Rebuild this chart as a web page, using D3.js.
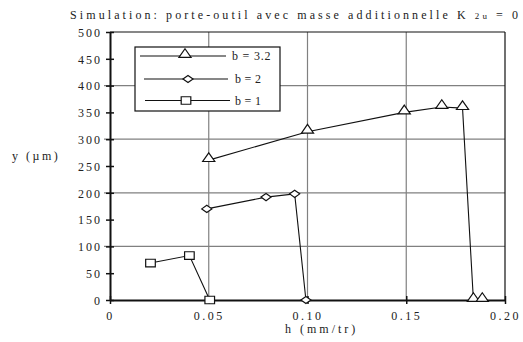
<!DOCTYPE html>
<html><head><meta charset="utf-8">
<script src="https://cdn.jsdelivr.net/npm/d3@7"></script>
<style>body{margin:0;background:#fff}svg{display:block}</style>
</head><body>
<svg id="c" width="523" height="342"></svg>
<script>
const xTicks = [0, 0.05, 0.10, 0.15, 0.20];
const xTickLabels = ["0", "0.05", "0.10", "0.15", "0.20"];
const yTicks = [0, 50, 100, 150, 200, 250, 300, 350, 400, 450, 500];
const yGrid = [100, 200, 300, 400];
const xGrid = [0.05, 0.10, 0.15];

const s32_x = [0.05, 0.10, 0.149, 0.168, 0.1785, 0.184, 0.1885];
const s32_y = [261, 314, 350, 360, 358, 0, 0];
const s2_x = [0.049, 0.079, 0.0935, 0.0992];
const s2_y = [170, 192, 198, 0];
const s1_x = [0.0205, 0.0402, 0.0505];
const s1_y = [69, 83, 0];
const seriesNames = ["b = 3.2", "b = 2", "b = 1"];

const FONT = '"Liberation Serif", "Times New Roman", serif';
const svg = d3.select("#c").style("font-family", FONT);
const x = d3.scaleLinear().domain([0, 0.20]).range([110, 505]);
const y = d3.scaleLinear().domain([0, 500]).range([300, 32]);

// grid
svg.append("g").selectAll("line").data(yGrid).join("line")
  .attr("x1", 104).attr("x2", x(0.20)).attr("y1", d => y(d)).attr("y2", d => y(d))
  .attr("stroke", "#808080").attr("stroke-width", 1.2);
svg.append("g").selectAll("line").data(xGrid).join("line")
  .attr("x1", d => x(d)).attr("x2", d => x(d)).attr("y1", y(0)).attr("y2", y(500))
  .attr("stroke", "#808080").attr("stroke-width", 1.2);
// frame top/right
svg.append("line").attr("x1", x(0)).attr("x2", x(0.2)).attr("y1", y(500)).attr("y2", y(500)).attr("stroke", "#111").attr("stroke-width", 1.2);
svg.append("line").attr("x1", x(0.2)).attr("x2", x(0.2)).attr("y1", y(500)).attr("y2", y(0)).attr("stroke", "#111").attr("stroke-width", 1.2);

// axes
const yAxis = d3.axisLeft(y).tickValues(yTicks).tickSizeInner(4).tickSizeOuter(0).tickPadding(8);
const gy = svg.append("g").attr("transform", `translate(${x(0)},0)`).call(yAxis).attr("font-family", null);
gy.select(".domain").attr("stroke", "#111").attr("stroke-width", 2);
gy.selectAll(".tick line").attr("x2", 4).attr("x1", -4).attr("stroke", "#111").attr("stroke-width", 1.5);
gy.selectAll(".tick text").attr("fill", "#222").attr("x", -8).attr("dy", "0.35em")
  .style("font-family", FONT).style("font-size", "12px").style("letter-spacing", "2px");

const xAxis = d3.axisBottom(x).tickValues(xTicks).tickFormat((d, i) => xTickLabels[i]).tickSizeInner(4).tickSizeOuter(0).tickPadding(7);
const gx = svg.append("g").attr("transform", `translate(0,${y(0)})`).call(xAxis).attr("font-family", null);
gx.select(".domain").attr("stroke", "#111").attr("stroke-width", 2);
gx.selectAll(".tick line").attr("y1", -4).attr("y2", 4).attr("stroke", "#111").attr("stroke-width", 1.5);
gx.selectAll(".tick text").attr("fill", "#222")
  .style("font-family", FONT).style("font-size", "12px").style("letter-spacing", "2.5px");

// series
const line = d3.line().x(d => x(d[0])).y(d => y(d[1]));
const series = [
  {pts: d3.zip(s32_x, s32_y), sym: d3.symbolTriangle, size: 48},
  {pts: d3.zip(s2_x, s2_y), sym: d3.symbolDiamond2, size: 45},
  {pts: d3.zip(s1_x, s1_y), sym: d3.symbolSquare, size: 70}
];
function drawSym(g, sym, size, px, py) {
  let tr = `translate(${px},${py})`;
  if (sym === d3.symbolDiamond2) tr += " scale(1.2,0.85)";
  if (sym === d3.symbolTriangle) tr = `translate(${px},${py - 1.5}) scale(1.15,0.95)`;
  if (sym === d3.symbolSquare) tr += " scale(1.15,0.9)";
  g.append("path").attr("d", d3.symbol(sym, size)()).attr("transform", tr)
    .attr("fill", "#fff").attr("stroke", "#111").attr("stroke-width", 1.2).attr("vector-effect", "non-scaling-stroke");
}
series.forEach(s => {
  const g = svg.append("g");
  g.append("path").attr("d", line(s.pts)).attr("fill", "none").attr("stroke", "#111").attr("stroke-width", 1.1);
  s.pts.forEach(p => drawSym(g, s.sym, s.size, x(p[0]), y(p[1])));
});

// legend
const lg = svg.append("g");
lg.append("rect").attr("x", 135).attr("y", 47).attr("width", 145).attr("height", 64)
  .attr("fill", "#fff").attr("stroke", "#111").attr("stroke-width", 1.2);
const legY = [56, 79, 100.5];
const legL = [[140, 226, 185], [144, 228, 188], [145, 230, 186]];
seriesNames.forEach((n, i) => {
  lg.append("line").attr("x1", legL[i][0]).attr("x2", legL[i][1]).attr("y1", legY[i]).attr("y2", legY[i]).attr("stroke", "#111").attr("stroke-width", 1.2);
  drawSym(lg, series[i].sym, series[i].size, legL[i][2], legY[i]);
  lg.append("text").attr("x", i === 0 ? 232 : 235).attr("y", legY[i] + 4).style("font-size", "12px")
    .style("letter-spacing", i === 0 ? "0.8px" : "0.3px").attr("fill", "#222").text(n);
});

// titles
const t = svg.append("text").attr("x", 70).attr("y", 19).attr("fill", "#222").style("font-size", "12px")
  .attr("textLength", 448).attr("lengthAdjust", "spacing");
t.append("tspan").text("Simulation: porte-outil avec masse additionnelle   K ");
t.append("tspan").style("font-size", "9px").text("2u");
t.append("tspan").text(" = 0");

svg.append("text").attr("x", 12).attr("y", 160).attr("fill", "#222").style("font-size", "12px").style("letter-spacing", "2.5px").text("y (µm)");
svg.append("text").attr("x", 285).attr("y", 333).attr("fill", "#222").style("font-size", "12px").style("letter-spacing", "3px").text("h (mm/tr)");
</script>
</body></html>
